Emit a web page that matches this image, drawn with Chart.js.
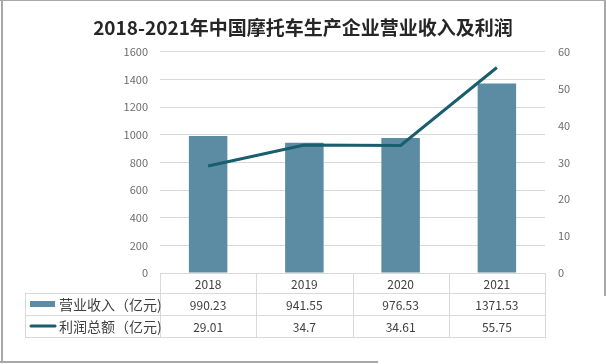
<!DOCTYPE html>
<html lang="zh">
<head>
    <meta charset="UTF-8">
    <title>motorcycle_revenue</title>
    <script src="https://cdn.jsdelivr.net/npm/chart.js@4.4.1/dist/chart.umd.min.js"></script>
    <style>
        *{margin:0; padding:0;}
        body{background:#fff;}
        #wrap{width:606px; height:364px; position:relative; overflow:hidden;}
        #wrap .frame{position:absolute; background:#a8a8a8;}
        #wrap .f_top{left:0; top:0; width:606px; height:1px;}
        #wrap .f_left{left:1px; top:0; width:2px; height:363px;}
        #wrap .f_right{left:604px; top:0; width:2px; height:296px;}
        #wrap .f_bottom{left:0; top:361px; width:378px; height:2px;}
    </style>
</head>
<body>
    <div id="wrap">
        <canvas id="comboChart"></canvas>
        <div class="frame f_top"></div>
        <div class="frame f_left"></div>
        <div class="frame f_right"></div>
        <div class="frame f_bottom"></div>
    </div>

    <script>
        const years = ['2018', '2019', '2020', '2021']
        const revenue = [990.23, 941.55, 976.53, 1371.53]
        const profit = [29.01, 34.7, 34.61, 55.75]
        const seriesNames = ['营业收入（亿元)', '利润总额（亿元)']

        const barColor = '#5b8ca3'
        const lineColor = '#195e6c'
        const gridColor = '#d9d9d9'
        const fontFamily = '"Noto Sans CJK SC", "Noto Sans", sans-serif'

        // data table under the plot
        const dataTable = {
            id:'dataTable',
            afterDraw:function(chart){
                const ctx = chart.ctx
                const area = chart.chartArea
                const x = chart.scales.x
                const colW = (area.right - area.left) / years.length
                const tableLeft = 25
                const yTop = area.bottom
                const yHead = yTop + 20
                const yR1 = yHead + 22
                const yR2 = yR1 + 22

                ctx.save()
                ctx.strokeStyle = gridColor
                ctx.lineWidth = 1

                ctx.beginPath()
                ctx.moveTo(area.left, yTop + 0.5); ctx.lineTo(area.right + 1, yTop + 0.5)
                ;[yHead, yR1, yR2].forEach(function(y){
                    ctx.moveTo(tableLeft, y + 0.5); ctx.lineTo(area.right + 1, y + 0.5)
                })
                ctx.moveTo(tableLeft + 0.5, yHead); ctx.lineTo(tableLeft + 0.5, yR2)
                for(let i = 0; i <= years.length; i++){
                    const cx = Math.round(area.left + i * colW) + 0.5
                    ctx.moveTo(cx, yTop); ctx.lineTo(cx, yR2)
                }
                ctx.stroke()

                ctx.fillStyle = '#404040'
                ctx.textAlign = 'center'
                ctx.textBaseline = 'middle'
                ctx.font = '12px ' + fontFamily
                years.forEach(function(y, i){
                    const cx = x.getPixelForValue(i)
                    ctx.fillText(y, cx, (yTop + yHead) / 2 + 1)
                    ctx.fillText(String(revenue[i]), cx, (yHead + yR1) / 2 + 1)
                    ctx.fillText(String(profit[i]), cx, (yR1 + yR2) / 2 + 1)
                })

                // legend keys
                ctx.fillStyle = barColor
                ctx.fillRect(30, (yHead + yR1) / 2 - 3, 25, 6)
                ctx.strokeStyle = lineColor
                ctx.lineWidth = 3
                ctx.lineCap = 'round'
                ctx.beginPath()
                ctx.moveTo(31, (yR1 + yR2) / 2); ctx.lineTo(55, (yR1 + yR2) / 2)
                ctx.stroke()

                ctx.fillStyle = '#404040'
                ctx.textAlign = 'left'
                ctx.font = '14px ' + fontFamily
                ctx.fillText(seriesNames[0], 59, (yHead + yR1) / 2 + 1)
                ctx.fillText(seriesNames[1], 59, (yR1 + yR2) / 2 + 1)
                ctx.restore()
            }
        }

        const config = {
            data:{
                labels:years,
                datasets:[
                    {
                        type:'line',
                        label:seriesNames[1],
                        data:profit,
                        yAxisID:'y1',
                        borderColor:lineColor,
                        borderWidth:3,
                        pointRadius:0,
                        tension:0,
                        order:0
                    },
                    {
                        type:'bar',
                        label:seriesNames[0],
                        data:revenue,
                        yAxisID:'y',
                        backgroundColor:barColor,
                        categoryPercentage:1,
                        barPercentage:0.4,
                        order:1
                    }
                ]
            },
            options:{
                responsive:true,
                maintainAspectRatio:false,
                animation:false,
                layout:{
                    padding:{left:0, right:0, top:0, bottom:91}
                },
                plugins:{
                    legend:{display:false},
                    tooltip:{enabled:false},
                    title:{
                        display:true,
                        text:'2018-2021年中国摩托车生产企业营业收入及利润',
                        color:'#262626',
                        font:{family:fontFamily, size:19, weight:'bold'},
                        padding:{top:16, bottom:13}
                    }
                },
                scales:{
                    x:{
                        display:false,
                        offset:true
                    },
                    y:{
                        position:'left',
                        min:0,
                        max:1600,
                        afterFit:function(scale){ scale.width = 160 },
                        border:{display:false},
                        grid:{color:gridColor, drawTicks:false},
                        ticks:{
                            stepSize:200,
                            padding:12,
                            color:'#6b6b6b',
                            font:{family:fontFamily, size:11},
                            callback:function(v){ return String(v) }
                        }
                    },
                    y1:{
                        position:'right',
                        min:0,
                        max:60,
                        afterFit:function(scale){ scale.width = 61 },
                        border:{display:false},
                        grid:{drawOnChartArea:false, drawTicks:false},
                        ticks:{
                            stepSize:10,
                            padding:13,
                            color:'#6b6b6b',
                            font:{family:fontFamily, size:11},
                            callback:function(v){ return String(v) }
                        }
                    }
                }
            },
            plugins:[dataTable]
        }

        const ctx = document.querySelector('#comboChart').getContext('2d')
        const comboChart = new Chart(ctx, config)
    </script>
</body>
</html>
